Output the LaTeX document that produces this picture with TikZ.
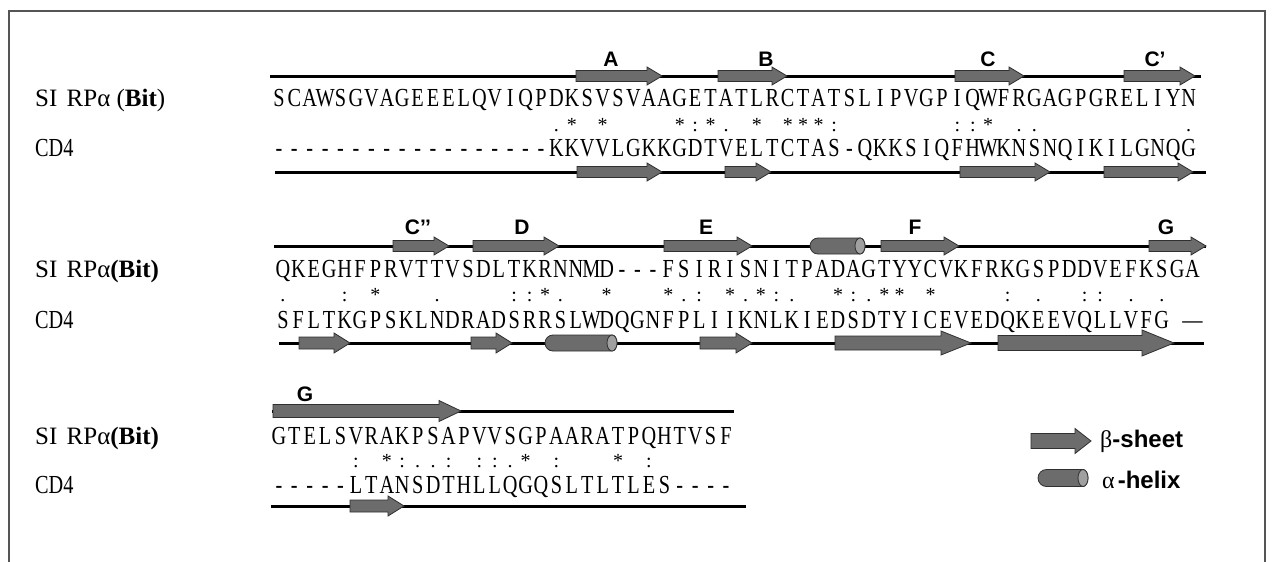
\documentclass[tikz,border=0pt]{standalone}
\usepackage{fontspec}
\setmainfont{Liberation Serif}
\newfontfamily\seqfont[FakeStretch=0.78]{Liberation Serif}
\newfontfamily\lblfont{Liberation Sans}
\definecolor{sheetgray}{HTML}{6C6C6C}
\definecolor{edgegray}{HTML}{303030}
\definecolor{capgray}{HTML}{A0A0A0}
\definecolor{framegray}{HTML}{555555}
\makeatletter
\newlength\colw
\setlength\colw{15.42pt}
\newcommand\cols[1]{\@tfor\colsitem:=#1\do{\makebox[\colw][c]{\colsitem}}}
\makeatother
\newcommand\strandarrow[6]{%
  \filldraw[strand] (#1,{#3-#4}) -- ({#2-#6},{#3-#4}) -- ({#2-#6},{#3-#5}) -- (#2,#3)
    -- ({#2-#6},{#3+#5}) -- ({#2-#6},{#3+#4}) -- (#1,{#3+#4}) -- cycle;}
\newcommand\helixcyl[5]{%
  \filldraw[strand] ({#2-#5},{#3-#4}) -- ({#1+#4},{#3-#4})
    arc[start angle=-90, end angle=-270, radius=#4] -- ({#2-#5},{#3+#4})
    arc[start angle=90, end angle=-90, x radius=#5, y radius=#4] -- cycle;
  \filldraw[strand, fill=capgray] ({#2-#5},#3) ellipse[x radius=#5, y radius=#4];}
\begin{document}
\begin{tikzpicture}[x=1pt,y=-1pt,
  bb/.style={line width=3pt, draw=black},
  strand/.style={fill=sheetgray, draw=edgegray, line width=0.8pt},
  seqtxt/.style={anchor=base west, inner sep=0pt, font=\seqfont\fontsize{26}{26}\selectfont},
  mk/.style={anchor=base west, inner sep=0pt, font=\fontsize{20}{20}\selectfont},
  sslbl/.style={anchor=base, inner sep=0pt, font=\lblfont\bfseries\fontsize{21}{21}\selectfont},
  rowlbl/.style={anchor=base west, inner sep=0pt, font=\fontsize{25}{25}\selectfont},
  cdlbl/.style={anchor=base west, inner sep=0pt, font=\seqfont\fontsize{26}{26}\selectfont}]
\useasboundingbox (0,0) rectangle (1272,562);
\fill[white] (0,0) rectangle (1272,562);
% frame (open at bottom)
\draw[framegray, line width=2pt] (9,562) -- (9,11) -- (1265,11) -- (1265,562);

% ---------------- Row 1 ----------------
\coordinate (r1tL) at (270,76); \coordinate (r1tR) at (1201,76);
\coordinate (r1bL) at (275,172); \coordinate (r1bR) at (1206,172);
\draw[bb] (r1tL) -- (r1tR);
\draw[bb] (r1bL) -- (r1bR);
\strandarrow{576}{662}{76}{5.5}{9}{15}
\strandarrow{718}{787}{76}{5.5}{9}{15}
\strandarrow{955}{1024}{76}{5.5}{9}{15}
\strandarrow{1124}{1195}{76}{5.5}{9}{15}
\strandarrow{577}{662}{172}{5.5}{9}{15}
\strandarrow{725}{771}{172}{5.5}{9}{15}
\strandarrow{960}{1050}{172}{5.5}{9}{15}
\strandarrow{1104}{1193}{172}{5.5}{9}{15}
\node[sslbl] (lA) at (611,66) {A};
\node[sslbl] (lB) at (766,66) {B};
\node[sslbl] (lC) at (988,66) {C};
\node[sslbl] (lCp) at (1155,66) {C’};
\node[rowlbl] (n1) at (35,106) {SI\hspace{3pt} RPα (\textbf{Bit})};
\node[cdlbl] (c1) at (35,156) {CD4};
\node[seqtxt] (s1) at (271,106) {\cols{SCAWSGVAGEEELQVIQPDKSVSVAAGETATLRCTATSLIPVGPIQWFRGAGPGRELIYN}};
\node[mk] (m1) at (271,131) {\cols{~~~~~~~~~~~~~~~~~~.*~*~~~~*:*.~*~***:~~~~~~~::*~..~~~~~~~~~.}};
\node[seqtxt] (d1) at (271,156) {\cols{------------------KKVVLGKKGDTVELTCTAS-QKKSIQFHWKNSNQIKILGNQG}};

% ---------------- Row 2 ----------------
\coordinate (r2tL) at (274,246); \coordinate (r2tR) at (1206,246);
\coordinate (r2bL) at (279,343); \coordinate (r2bR) at (1204,343);
\draw[bb] (r2tL) -- (r2tR);
\draw[bb] (r2bL) -- (r2bR);
\strandarrow{393}{449}{246}{5.5}{9}{15}
\strandarrow{473}{559}{246}{5.5}{9}{15}
\strandarrow{664}{752}{246}{5.5}{9}{15}
\strandarrow{881}{959}{246}{5.5}{9}{15}
\strandarrow{1149}{1206}{246}{5.5}{9}{15}
\helixcyl{810}{865}{246}{8}{5}
\strandarrow{299}{350}{343}{6}{10}{16}
\strandarrow{471}{512}{343}{6}{10}{16}
\strandarrow{700}{752}{343}{6}{10}{16}
\strandarrow{835}{971}{343}{7}{12}{30}
\strandarrow{998}{1174}{343}{7.5}{13}{32}
\helixcyl{545}{617}{343}{8}{5}
\node[sslbl] (lCpp) at (418,234) {C’’};
\node[sslbl] (lD) at (522,234) {D};
\node[sslbl] (lE) at (706,234) {E};
\node[sslbl] (lF) at (915,234) {F};
\node[sslbl] (lG) at (1166,234) {G};
\node[rowlbl] (n2) at (35,277) {SI\hspace{3pt} RPα\textbf{(Bit)}};
\node[cdlbl] (c2) at (35,328) {CD4};
\node[seqtxt] (s2) at (275,277) {\cols{QKEGHFPRVTTVSDLTKRNNMD---FSIRISNITPADAGTYYCVKFRKGSPDDVEFKSGA}};
\node[mk] (m2) at (275,301) {\cols{.~~~:~*~~~.~~~~::*.~~*~~~*.:~*.*:.~~*:.**~*~~~~:~.~~::~.~.}};
\node[seqtxt] (d2) at (275,328) {\cols{SFLTKGPSKLNDRADSRRSLWDQGNFPLIIKNLKIEDSDTYICEVEDQKEEVQLLVFG~—}};

% ---------------- Row 3 ----------------
\coordinate (r3tL) at (272,411); \coordinate (r3tR) at (734,411);
\coordinate (r3bL) at (271,506); \coordinate (r3bR) at (746,506);
\draw[bb] (r3tL) -- (r3tR);
\draw[bb] (r3bL) -- (r3bR);
\strandarrow{273}{461}{411}{6.5}{10.5}{22}
\strandarrow{350}{404}{506}{6}{10}{16}
\node[sslbl] (lG3) at (305,401) {G};
\node[rowlbl] (n3) at (35,444) {SI\hspace{3pt} RPα\textbf{(Bit)}};
\node[cdlbl] (c3) at (35,493) {CD4};
\node[seqtxt] (s3) at (271,444) {\cols{GTELSVRAKPSAPVVSGPAARATPQHTVSF}};
\node[mk] (m3) at (271,467) {\cols{~~~~~:~*:..:~::.*~:~~~*~:}};
\node[seqtxt] (d3) at (271,493) {\cols{-----LTANSDTHLLQGQSLTLTLES----}};

% ---------------- Legend ----------------
\strandarrow{1031}{1091}{441}{7.5}{12.5}{16}
\helixcyl{1038}{1088}{478}{8.5}{5}
\node[anchor=west, inner sep=0pt] (lgb) at (1100,441)
  {{\fontsize{24}{24}\selectfont β}{\lblfont\bfseries\fontsize{24}{24}\selectfont -sheet}};
\node[anchor=west, inner sep=0pt] (lga) at (1102,480)
  {{\fontsize{24}{24}\selectfont α}\hspace{3pt}{\lblfont\bfseries\fontsize{24}{24}\selectfont -helix}};
\end{tikzpicture}
\end{document}
